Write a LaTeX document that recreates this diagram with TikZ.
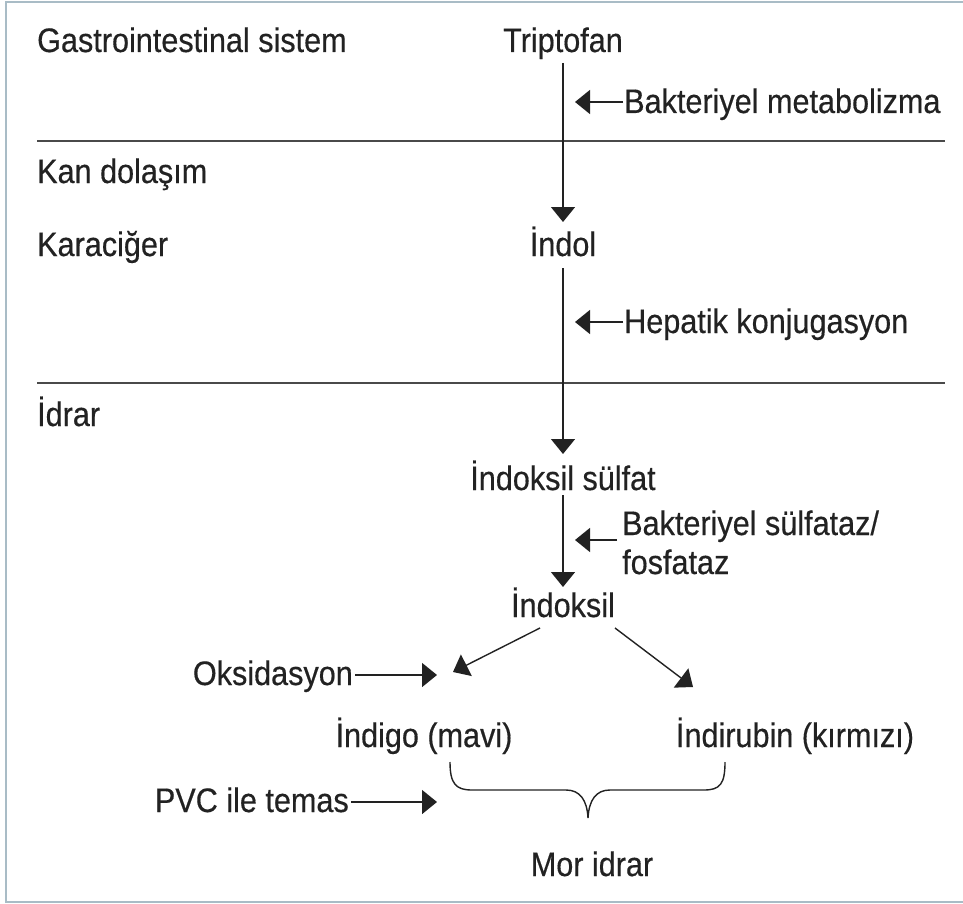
\documentclass[tikz,border=0pt]{standalone}
\usepackage{fontspec}
\setmainfont[FakeStretch=0.9,FakeBold=0.4]{Liberation Sans}
\usetikzlibrary{arrows.meta,calc}
\definecolor{ink}{HTML}{222222}
\definecolor{rulegray}{HTML}{4A4A4A}
\definecolor{framecol}{HTML}{A9BCC6}
\begin{document}
\begin{tikzpicture}[x=1pt,y=-1pt,
  txt/.style={inner sep=0pt, font=\fontsize{34}{40}\selectfont, text=ink},
  arr/.style={line width=1.4pt, draw=ink, -{Triangle[length=15pt,width=24pt]}},
  seprule/.style={line width=2pt, draw=rulegray},
  bracepath/.style={line width=1.4pt, draw=ink},
  framerule/.style={line width=2.2pt, draw=framecol}
]
\fill[white] (0,0) rectangle (963,904);
\useasboundingbox (0,0) rectangle (963,904);
% frame
\draw[framerule] (963,2) -- (6,2) -- (6,902) -- (963,902);

% separators
\draw[seprule] (37,141) -- (945,141);
\draw[seprule] (37,383) -- (945,383);

% texts
\node[txt, anchor=base west] (gi) at (37,52) {Gastrointestinal sistem};
\node[txt, anchor=base] (trip) at (563,52) {Triptofan};
\node[txt, anchor=base west] (bm) at (624,113) {Bakteriyel metabolizma};
\node[txt, anchor=base west] (kan) at (37,183) {Kan dolaşım};
\node[txt, anchor=base west] (kc) at (37,256) {Karaciğer};
\node[txt, anchor=base] (indol) at (563,256) {İndol};
\node[txt, anchor=base west] (hk) at (624,333) {Hepatik konjugasyon};
\node[txt, anchor=base west] (idrar) at (37,426) {İdrar};
\node[txt, anchor=base] (isul) at (563,490) {İndoksil sülfat};
\node[txt, anchor=base west] (bs) at (622,535) {Bakteriyel sülfataz/};
\node[txt, anchor=base west] (fos) at (622,574) {fosfataz};
\node[txt, anchor=base] (ind) at (563,617) {İndoksil};
\node[txt, anchor=base east] (oks) at (353,685) {Oksidasyon};
\node[txt, anchor=base] (indigo) at (424,747) {İndigo (mavi)};
\node[txt, anchor=base] (indir) at (795,747) {İndirubin (kırmızı)};
\node[txt, anchor=base east] (pvc) at (349,812) {PVC ile temas};
\node[txt, anchor=base] (mor) at (592,876) {Mor idrar};

% free arrow ends
\coordinate (t1) at (575,102);
\coordinate (t2) at (575,322);
\coordinate (t3) at (575,540);
\coordinate (tl) at (453,672);
\coordinate (tr) at (693,687);
\coordinate (to) at (437,675);
\coordinate (tp) at (437,802);

% main vertical arrows
\draw[arr] ($(trip.base)+(0,11)$) -- ($(indol.base)+(0,-34)$);
\draw[arr] ($(indol.base)+(0,12)$) -- ($(isul.base)+(0,-36)$);
\draw[arr] ($(isul.base)+(0,5)$) -- ($(ind.base)+(0,-30)$);

% side arrows
\draw[arr] ($(bm.base west)+(-1,-11)$) -- (t1);
\draw[arr] ($(hk.base west)+(-1,-11)$) -- (t2);
\draw[arr] ($(bs.base west)+(-5,5)$) -- (t3);

% diagonals
\draw[arr] ($(ind.base)+(-23,11)$) -- (tl);
\draw[arr] ($(ind.base)+(52,11)$) -- (tr);

\draw[arr] ($(oks.base east)+(2,-10)$) -- (to);
\draw[arr] ($(pvc.base east)+(2,-10)$) -- (tp);

% brace
\coordinate (bl) at (450,762);
\coordinate (br) at (725,762);
\coordinate (bt) at (588,818);
\draw[bracepath] (bl) .. controls (450,784) and (456,790) .. (472,790)
  -- (566,790) .. controls (580,790) and (587,800) .. (bt)
  .. controls (589,800) and (596,790) .. (610,790)
  -- (704,790) .. controls (720,790) and (725,784) .. (br);
\end{tikzpicture}
\end{document}
